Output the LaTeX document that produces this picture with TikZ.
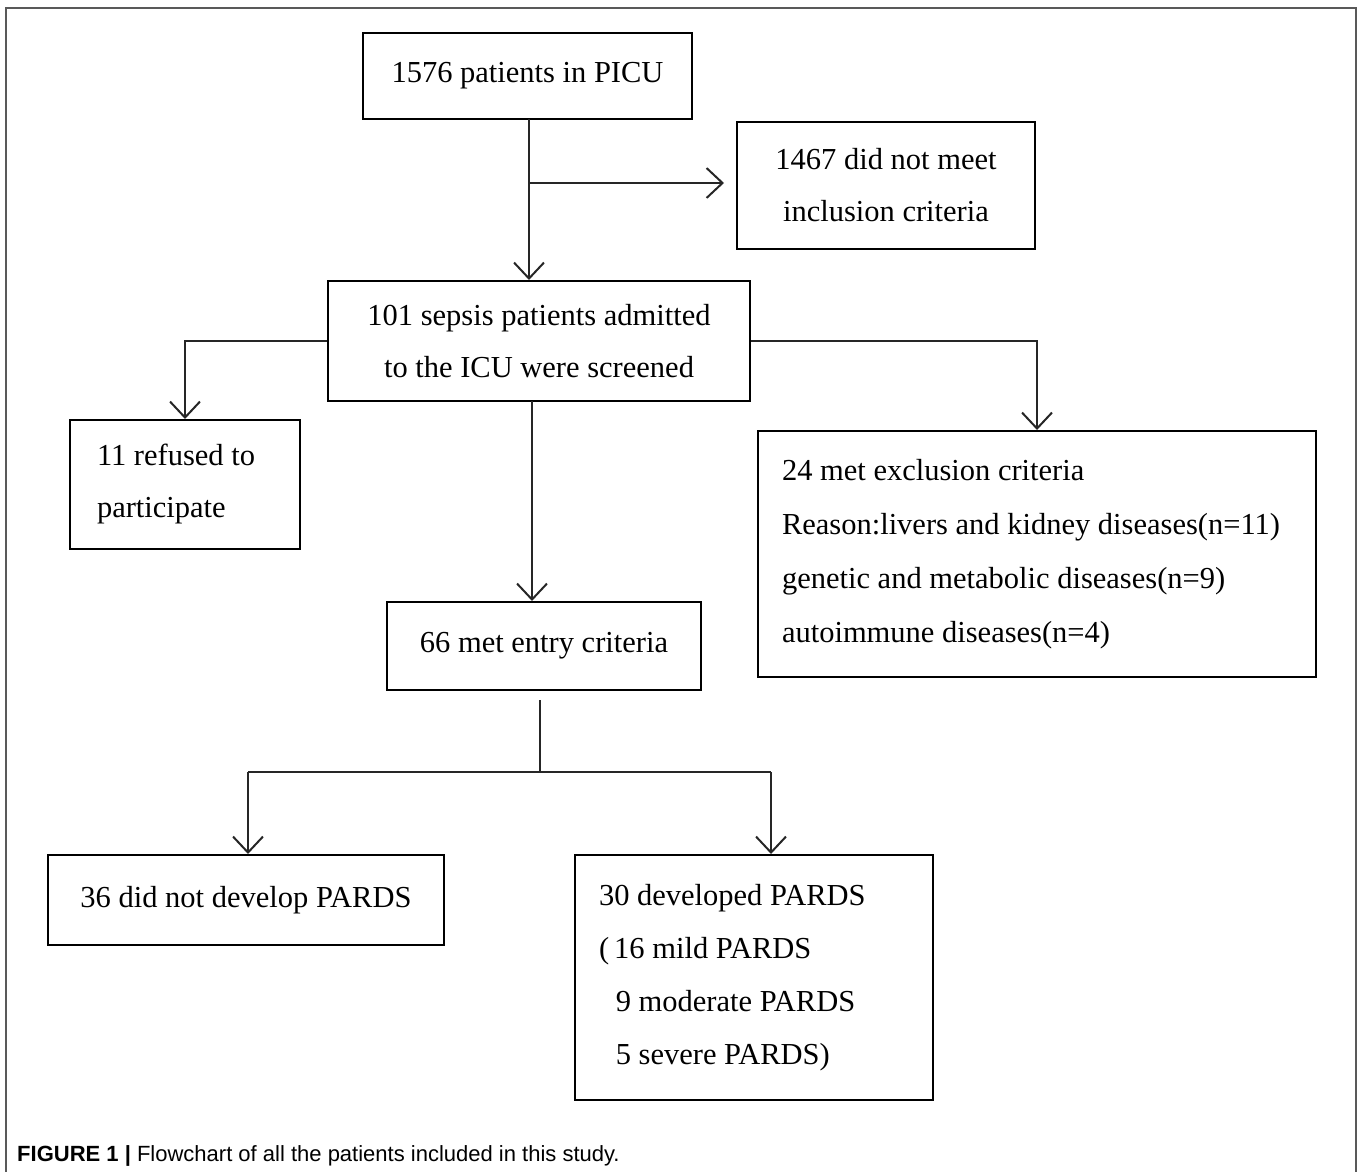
\documentclass[tikz,border=0pt]{standalone}
\usepackage{fontspec}
\setmainfont{Liberation Serif}
\newfontfamily\capfont{Liberation Sans}
\usetikzlibrary{arrows.meta,calc}
\tikzset{
  box/.style={draw=black, line width=2pt, rectangle, inner sep=0pt, font=\fontsize{30.5}{52}\selectfont},
  lbox/.style={box, align=flush left},
  cbox/.style={box, align=center},
  conn/.style={draw=black!85, line width=2pt},
  arr/.style={conn, -{Straight Barb[length=16pt,width=30pt,line width=2pt]}},
}
\begin{document}
\begin{tikzpicture}[x=1pt,y=-1pt]
\useasboundingbox (0,0) rectangle (1360,1172);
% frame
\draw[black!65, line width=2pt] (6,1172) -- (6,8) -- (1356,8) -- (1356,1172);

\node[cbox, minimum width=329, minimum height=86] (A) at (527.5,76) {1576 patients in PICU};
\node[cbox, minimum width=298, minimum height=127] (B) at (886,185.5) {1467 did not meet\\inclusion criteria};
\node[cbox, minimum width=422, minimum height=120] (C) at (539,341) {101 sepsis patients admitted\\to the ICU were screened};
\node[lbox, minimum width=230, minimum height=129, text width=176, inner xsep=27pt] (D) at (185,484.5) {11 refused to\\participate};
\node[lbox, minimum width=558, minimum height=246, text width=510, inner xsep=24pt, font=\fontsize{30.5}{54}\selectfont] (E) at (1037,554) {24 met exclusion criteria\\Reason:livers and kidney diseases(n=11)\\genetic and metabolic diseases(n=9)\\autoimmune diseases(n=4)};
\node[cbox, minimum width=314, minimum height=88] (F) at (544,646) {66 met entry criteria};
\node[cbox, minimum width=396, minimum height=90] (G) at (246,900) {36 did not develop PARDS};
\node[lbox, minimum width=358, minimum height=245, text width=310, inner xsep=24pt, font=\fontsize{30.5}{53}\selectfont] (H) at (754,977.5) {30 developed PARDS\\(\,16 mild PARDS\\\hspace*{0.55em}9 moderate PARDS\\\hspace*{0.55em}5 severe PARDS)};

\node[anchor=base west, inner sep=0pt, font=\capfont\fontsize{22}{24}\selectfont] (cap) at (17,1161) {\textbf{FIGURE 1 |} Flowchart of all the patients included in this study.};

% connectors
\coordinate (a1) at (529,119);
\coordinate (abr) at (529,183);
\coordinate (bend) at (724,183);
\draw[arr] (a1) -- (a1 |- C.north);
\draw[arr] (abr) -- (bend);

\draw[arr] (C.west) -| (D.north);
\draw[arr] (C.east) -| (E.north);
\coordinate (c1) at (532,401);
\draw[arr] (c1) -- (c1 |- F.north);

\coordinate (f1) at (540,700);
\coordinate (f2) at (540,772);
\coordinate (gl) at (248,772);
\coordinate (hr) at (771,772);
\draw[conn] (f1) -- (f2);
\draw[conn] (gl) -- (hr);
\draw[arr] (gl) -- (gl |- G.north);
\draw[arr] (hr) -- (hr |- H.north);
\end{tikzpicture}
\end{document}
